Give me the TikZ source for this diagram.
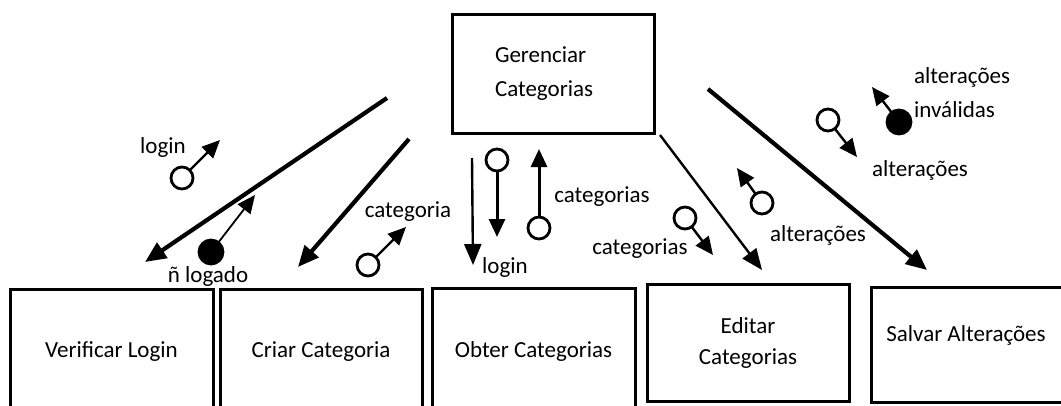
\documentclass[tikz,border=0pt]{standalone}
\usepackage{fontspec}
\setmainfont{Carlito}
\usetikzlibrary{arrows.meta}
\begin{document}
\begin{tikzpicture}[x=1pt,y=-1pt,
 lbl/.style={font=\fontsize{23}{27}\selectfont, inner sep=0pt},
 box/.style={draw, line width=3pt, inner sep=0pt, font=\fontsize{23}{31}\selectfont, align=center},
 tok/.style={circle, draw, line width=2.8pt, minimum width=20pt, minimum height=22pt, inner sep=0pt},
 tokf/.style={tok, fill},
 flow/.style={line width=4.2pt, -{Triangle[length=21pt,width=18pt]}},
 thinflow/.style={line width=2.4pt, -{Triangle[length=21pt,width=17pt]}},
 tokarr/.style={line width=2.4pt, -{Triangle[length=18pt,width=16pt]}, shorten <=-1pt},
]
\useasboundingbox[fill=white] (0,0) rectangle (1061,405);

% main boxes
\node[box, minimum width=202pt, minimum height=119pt, align=left, text width=116pt,
      font=\fontsize{23}{34}\selectfont] (ger) at (553,73.5) {Gerenciar\\Categorias};
\node[box, minimum width=203pt, minimum height=126pt] (ver) at (111.5,352) {Verificar Login};
\node[box, minimum width=202pt, minimum height=126pt] (cri) at (321,352) {Criar Categoria};
\node[box, minimum width=203pt, minimum height=127pt] (obt) at (533.5,351.5) {Obter Categorias};
\node[box, minimum width=202pt, minimum height=117pt] (edi) at (748,342.5) {Editar\\Categorias};
\node[box, minimum width=199pt, minimum height=115pt] (sal) at (970.5,344.5) {};
\node[lbl] (saltxt) at (966,335) {Salvar Alterações};

% main flow arrows
\coordinate (a1s) at (387,98);  \coordinate (a1e) at (145,262);
\coordinate (a2s) at (409,139); \coordinate (a2e) at (298,267);
\coordinate (a3s) at (472,158); \coordinate (a3e) at (473,265);
\coordinate (a4s) at (660,135); \coordinate (a4e) at (762,270);
\coordinate (a5s) at (708,89);  \coordinate (a5e) at (927,270);
\draw[flow] (a1s) -- (a1e);
\draw[flow] (a2s) -- (a2e);
\draw[thinflow] (a3s) -- (a3e);
\draw[thinflow] (a4s) -- (a4e);
\draw[flow] (a5s) -- (a5e);

% data tokens
\node[tok] (t1) at (182,178) {};
\coordinate (t1e) at (220,140);
\draw[tokarr] (t1) -- (t1e);
\node[lbl] (l1) at (163,147) {login};

\node[tokf, minimum width=19pt, minimum height=24pt] (t2) at (211,252) {};
\coordinate (t2e) at (255,195);
\draw[tokarr, line width=1.8pt] (t2) -- (t2e);
\node[lbl] (l2) at (208,276) {ñ logado};

\node[tok] (t3) at (368,265) {};
\coordinate (t3e) at (406,227);
\draw[tokarr] (t3) -- (t3e);
\node[lbl] (l3) at (408,212) {categoria};

\node[tok] (t4) at (497,160) {};
\coordinate (t4e) at (497,237);
\draw[tokarr, line width=3pt] (t4) -- (t4e);
\node[lbl] (l4) at (505,267) {login};

\node[tok] (t5) at (539,228) {};
\coordinate (t5e) at (539,149);
\draw[tokarr, line width=3pt] (t5) -- (t5e);
\node[lbl] (l5) at (602,197) {categorias};

\node[tok] (t6) at (685,218) {};
\coordinate (t6e) at (713,255);
\draw[tokarr] (t6) -- (t6e);
\node[lbl] (l6) at (640,249) {categorias};

\node[tok] (t7) at (762,203) {};
\coordinate (t7e) at (737,168);
\draw[tokarr] (t7) -- (t7e);
\node[lbl] (l7) at (818,235) {alterações};

\node[tok] (t8) at (828,120) {};
\coordinate (t8e) at (857,157);
\draw[tokarr] (t8) -- (t8e);
\node[lbl] (l8) at (920,170) {alterações};

\node[tokf, minimum width=21pt, minimum height=24pt] (t9) at (899,122) {};
\coordinate (t9e) at (872,87);
\draw[tokarr] (t9) -- (t9e);
\node[lbl, anchor=west] (l9a) at (914,77) {alterações};
\node[lbl, anchor=west] (l9b) at (914,110) {inválidas};
\end{tikzpicture}
\end{document}
